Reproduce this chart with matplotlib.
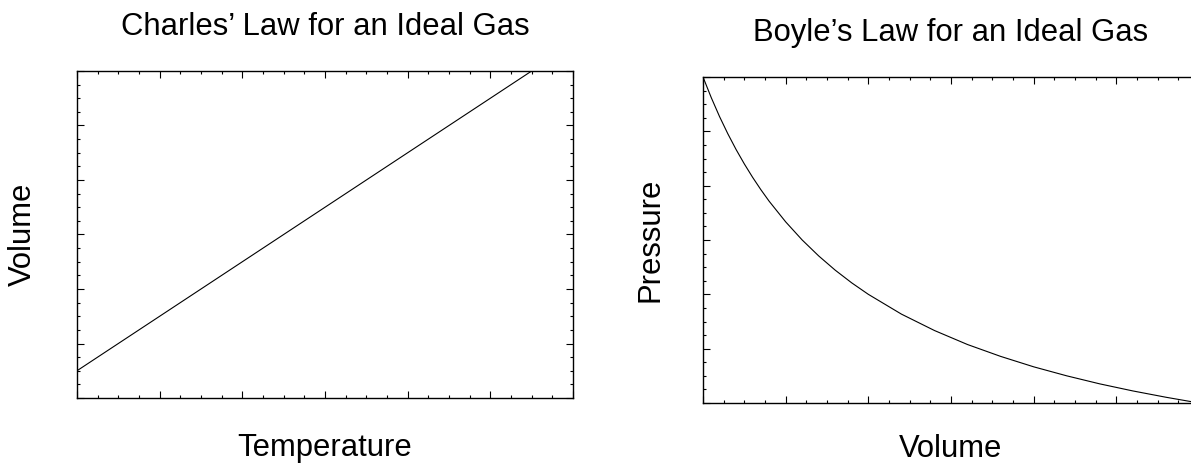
import matplotlib
matplotlib.use('Agg')
import matplotlib.pyplot as plt
from matplotlib.ticker import MultipleLocator

plt.rcParams['font.family'] = ['Liberation Sans', 'DejaVu Sans']

# Charles' law: volume grows linearly with temperature
temperature = [0.0, 3.0]
volume_charles = [0.25, 3.25]

# Boyle's law: pressure falls as volume grows
volume_boyle = [1.0, 1.05, 1.1, 1.15, 1.2, 1.25, 1.3, 1.35, 1.4, 1.5, 1.6, 1.7,
                1.8, 1.9, 2.0, 2.2, 2.4, 2.6, 2.8, 3.0, 3.2, 3.4, 3.6, 3.8, 4.0]
pressure = [4.0, 3.81, 3.636, 3.478, 3.333, 3.2, 3.077, 2.963, 2.857, 2.667,
            2.5, 2.353, 2.222, 2.105, 2.0, 1.818, 1.667, 1.538, 1.429, 1.333,
            1.25, 1.176, 1.111, 1.053, 1.0]

fig = plt.figure(figsize=(11.91, 4.63), dpi=100)
ax1 = fig.add_axes([77 / 1191, 65 / 463, 496 / 1191, 327 / 463])
ax2 = fig.add_axes([703 / 1191, 60 / 463, 496 / 1191, 326 / 463])


def style(ax):
    ax.xaxis.set_major_locator(MultipleLocator(0.5))
    ax.xaxis.set_minor_locator(MultipleLocator(0.125))
    ax.yaxis.set_major_locator(MultipleLocator(0.5))
    ax.yaxis.set_minor_locator(MultipleLocator(0.125))
    ax.tick_params(which='both', direction='in', top=True, right=True,
                   labelbottom=False, labelleft=False, width=0.8)
    ax.tick_params(which='major', length=5)
    ax.tick_params(which='minor', length=2.5)
    for s in ax.spines.values():
        s.set_linewidth(1.0)


fs = 22.3

ax1.plot(temperature, volume_charles, color='black', lw=0.8)
ax1.set_xlim(0, 3)
ax1.set_ylim(0, 3)
style(ax1)
ax1.set_title('Charles\u2019 Law for an Ideal Gas', fontsize=fs, pad=26)
ax1.set_xlabel('Temperature', fontsize=fs, labelpad=25)
ax1.set_ylabel('Volume', fontsize=fs, labelpad=28)

ax2.plot(volume_boyle, pressure, color='black', lw=0.8)
ax2.set_xlim(1, 4)
ax2.set_ylim(1, 4)
style(ax2)
ax2.set_title('Boyle\u2019s Law for an Ideal Gas', fontsize=fs, pad=26)
ax2.set_xlabel('Volume', fontsize=fs, labelpad=22)
ax2.set_ylabel('Pressure', fontsize=fs, labelpad=27)

fig.savefig('out.png', dpi=100)
